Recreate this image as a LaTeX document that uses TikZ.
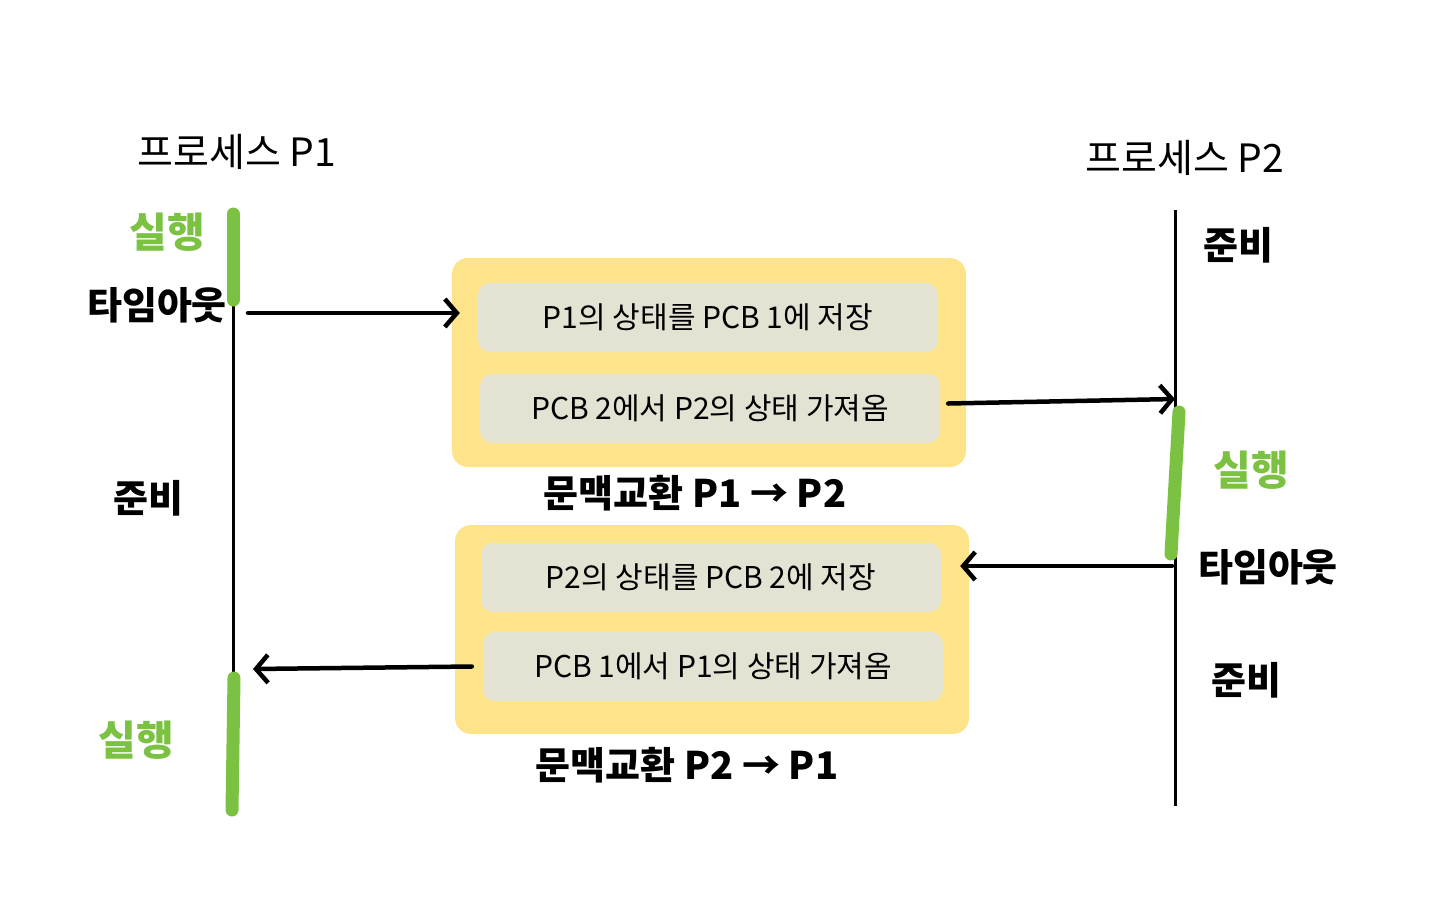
\documentclass[tikz,border=0pt]{standalone}
\usepackage{fontspec}
\setmainfont{Noto Sans CJK KR}
\usetikzlibrary{positioning,arrows.meta}
\definecolor{runGreen}{HTML}{7CC242}
\definecolor{ctxYellow}{HTML}{FDE48A}
\definecolor{stepGrey}{HTML}{E4E2D3}
\tikzset{
  title/.style={font=\fontsize{39}{44}\selectfont},
  timeline/.style={line width=3pt},
  runbar/.style={runGreen, line width=13pt, line cap=round},
  hand/.style={font=\fontsize{38}{42}\selectfont\bfseries, inner sep=0pt},
  handrun/.style={hand, font=\fontsize{41}{44}\selectfont\bfseries, text=runGreen},
  ctxbox/.style={fill=ctxYellow, rounded corners=16pt, minimum width=514pt, minimum height=209pt},
  stepbox/.style={fill=stepGrey, rounded corners=12pt, minimum width=460pt, minimum height=69pt,
    font=\fontsize{30}{34}\selectfont},
  flow/.style={line width=4.5pt, line cap=round, -{Straight Barb[length=12pt,width=28pt,line width=4.5pt]}},
}

\begin{document}
\begin{tikzpicture}[x=1pt,y=-1pt]
  \useasboundingbox (0,0) rectangle (1440,900);
  % titles
  \node[title] (titleA) at (237,152) {프로세스 P1};
  \node[title] (titleB) at (1185,158) {프로세스 P2};
  % time lines
  \coordinate (p1top) at (233,210);
  \coordinate (p1bot) at (233,815);
  \coordinate (p2top) at (1175,210);
  \coordinate (p2bot) at (1175,806);
  \draw[timeline] (p1top) -- (p1bot);
  \draw[timeline] (p2top) -- (p2bot);
  \draw[runbar] (233,214) -- (233,300);
  \draw[runbar] (234,678) -- (232,810);
  \draw[runbar] (1179,412) -- (1171,554);
  % labels
  \node[handrun] (runA) at (167,232) {실행};
  \node[hand] (outA) at (157,305) {타임아웃};
  \node[hand] (readyA) at (148,498) {준비};
  \node[handrun] (runA2) at (136,740) {실행};
  \node[hand] (readyB) at (1238,245) {준비};
  \node[handrun] (runB) at (1251,470) {실행};
  \node[hand] (outB) at (1268,567) {타임아웃};
  \node[hand] (readyB2) at (1246,680) {준비};
  % context switch boxes
  \node[ctxbox] (ctxA) at (709,362.5) {};
  \node[stepbox] (saveA) at (708,317.5) {P1의 상태를 PCB 1에 저장};
  \node[stepbox] (loadA) at (710,408.5) {PCB 2에서 P2의 상태 가져옴};
  \node[hand] (capA) at (695,493) {문맥교환 P1 → P2};
  \node[ctxbox] (ctxB) at (712,629.5) {};
  \node[stepbox] (saveB) at (711,577.5) {P2의 상태를 PCB 2에 저장};
  \node[stepbox] (loadB) at (713,666.5) {PCB 1에서 P1의 상태 가져옴};
  \node[hand] (capB) at (687,765) {문맥교환 P2 → P1};
  % arrows
  \coordinate (leaveA) at (248,313);
  \coordinate (enterB) at (1175,399);
  \coordinate (leaveB) at (1172,566);
  \coordinate (enterA) at (253,669);
  \draw[flow] (leaveA) -- ([xshift=-18pt]saveA.west |- leaveA);
  \draw[flow] ([xshift=8pt,yshift=5pt]loadA.east) -- (enterB);
  \draw[flow] (leaveB) -- ([xshift=19pt]saveB.east |- leaveB);
  \draw[flow] ([xshift=-11pt]loadB.west) -- (enterA);
\end{tikzpicture}
\end{document}
